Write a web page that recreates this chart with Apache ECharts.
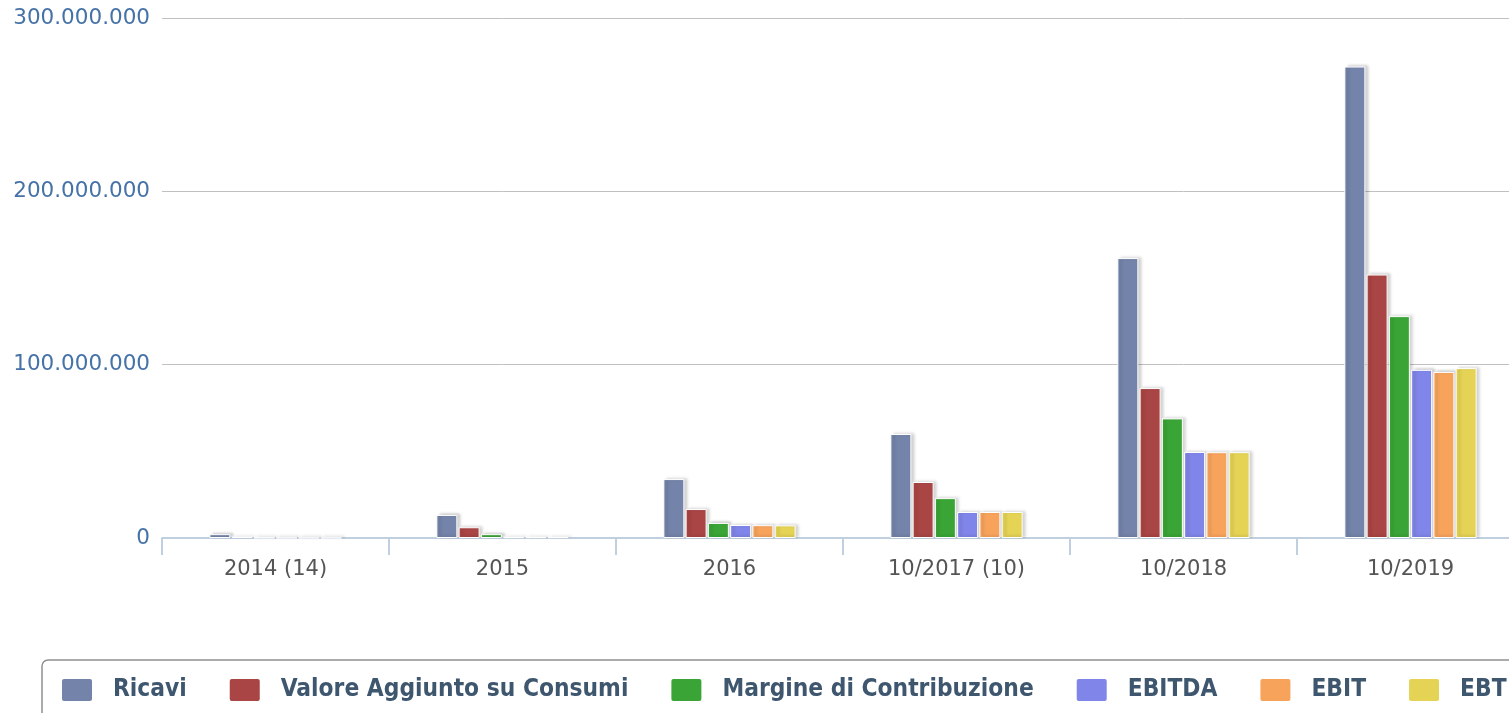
<!DOCTYPE html>
<html>
<head>
<meta charset="utf-8">
<script src="https://cdn.jsdelivr.net/npm/echarts@6/dist/echarts.min.js"></script>
<style>
  html, body { margin: 0; padding: 0; background: #fff; overflow: hidden; }
  #chart { width: 1530px; height: 713px; }
</style>
</head>
<body>
<div id="chart"></div>
<script>
// dati
const categories = ['2014 (14)', '2015', '2016', '10/2017 (10)', '10/2018', '10/2019']
const ricavi = [2200000, 13300000, 34000000, 60000000, 161500000, 272000000]
const valoreAggiunto = [600000, 6200000, 16700000, 32300000, 86500000, 152000000]
const margine = [200000, 2200000, 8700000, 23000000, 69000000, 128000000]
const ebitda = [100000, 500000, 7500000, 15000000, 49600000, 97000000]
const ebit = [100000, 500000, 7400000, 15000000, 49500000, 95800000]
const ebt = [100000, 500000, 7300000, 15000000, 49500000, 98000000]
const yTicks = [0, 100000000, 200000000, 300000000]

const chart = echarts.init(document.getElementById('chart'))

const fmt = v => String(v).replace(/\B(?=(\d{3})+(?!\d))/g, '.')

const bar = (name, data, color) => ({
  name: name,
  type: 'bar',
  data: data,
  barWidth: 21,
  barGap: '6%',
  itemStyle: {
    color: color,
    borderColor: '#fff',
    borderWidth: 1,
    shadowColor: 'rgba(0,0,0,0.2)',
    shadowBlur: 3,
    shadowOffsetX: 3,
    shadowOffsetY: -1
  }
})

const option = {
  animation: false,
  textStyle: { fontFamily: 'DejaVu Sans' },
  // il grafico originale esce dal bordo destro: contenitore più largo della finestra
  grid: { left: 162, top: 18, width: 1362, height: 520, containLabel: false },
  legend: {
    left: 42,
    top: 660,
    width: 1700,
    padding: [17, 20, 17, 18],
    borderColor: '#909090',
    borderWidth: 1.5,
    borderRadius: 6,
    itemWidth: 32,
    itemHeight: 24,
    itemGap: 41,
    icon: 'path://M3,0H29A3,3,0,0,1,32,3V21A3,3,0,0,1,29,24H3A3,3,0,0,1,0,21V3A3,3,0,0,1,3,0Z',
    textStyle: {
      color: '#3e576f',
      fontFamily: 'DejaVu Sans Condensed',
      fontWeight: 'bold',
      fontSize: 24.3,
      padding: [0, 0, 0, 15]
    }
  },
  xAxis: {
    type: 'category',
    data: categories,
    axisLine: { lineStyle: { color: '#c0d0e0', width: 2 } },
    axisTick: { show: true, length: 17, lineStyle: { color: '#c0d0e0', width: 2 } },
    axisLabel: { color: '#555', fontSize: 21, margin: 21 }
  },
  yAxis: {
    type: 'value',
    min: yTicks[0],
    max: yTicks[yTicks.length - 1],
    interval: yTicks[1] - yTicks[0],
    axisLine: { show: false },
    axisTick: { show: false },
    axisLabel: { color: '#4572a7', fontSize: 21.5, margin: 12, formatter: fmt },
    splitLine: { lineStyle: { color: '#c0c0c0', width: 1 } }
  },
  series: [
    bar('Ricavi', ricavi, '#7483a9'),
    bar('Valore Aggiunto su Consumi', valoreAggiunto, '#a94544'),
    bar('Margine di Contribuzione', margine, '#3aa536'),
    bar('EBITDA', ebitda, '#8085e9'),
    bar('EBIT', ebit, '#f7a35c'),
    bar('EBT', ebt, '#e4d354')
  ]
}

chart.setOption(option)

window.addEventListener('resize', () => {
  chart.resize()
})
</script>
</body>
</html>
